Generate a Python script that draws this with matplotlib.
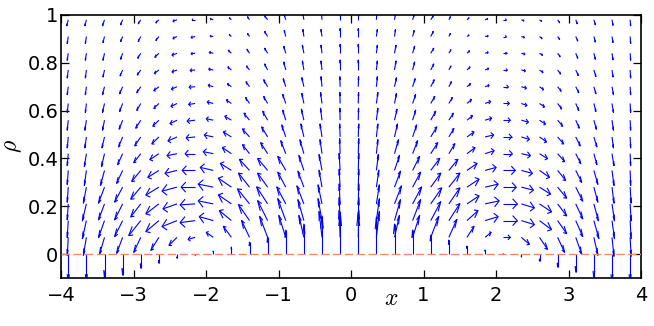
import numpy as np
import matplotlib
matplotlib.use("Agg")
import matplotlib.pyplot as plt
from matplotlib.collections import LineCollection

plt.rcParams['font.family'] = ['DejaVu Sans']
plt.rcParams['mathtext.fontset'] = 'cm'

# grid of arrow bases
x_pos = [-3.9, -3.65, -3.4, -3.15, -2.9, -2.65, -2.4, -2.15, -1.9, -1.65, -1.4, -1.15, -0.9, -0.65, -0.4, -0.15,
         0.1, 0.35, 0.6, 0.85, 1.1, 1.35, 1.6, 1.85, 2.1, 2.35, 2.6, 2.85, 3.1, 3.35, 3.6, 3.85]
rho_pos = [0.0, 0.07, 0.14, 0.21, 0.28, 0.35, 0.42, 0.49, 0.56, 0.63, 0.70, 0.77, 0.84, 0.91, 0.98]

# arrow components (screen px, x to the right, rho up), one row per rho
u_rows = [
    [0]*32,
    [-1,-3,-5,-6,-7,-8,-8,-7,-7,-8,-8,-8,-7,-5,-3,-1, 0.5,3,5,7,8,8,7,6,7,8,8,7,6,4,2,1],
    [-1,-4,-6,-8,-12,-13,-15,-15,-14,-12,-11,-10,-8,-6,-4,-1, 0.5,3,6,8,10,11,11,13,14,13,12,9,7,5,2.5,1],
    [-1,-4,-6,-8,-10,-13,-14,-15,-15,-13,-12,-11,-9,-7,-4,-1, 0.5,3,7,9,11,11,12,14,14,13,12,9,7,4.5,2.5,1],
    [-1,-3,-6,-8,-10,-13,-15,-14,-15,-13,-11,-10,-8,-6,-3,-1, 0.5,2.5,6,8,10,11,12,13,13,12,11,9,7,4,2,1],
    [-1,-2,-4,-6,-9,-11,-12,-13,-13,-11,-10,-10,-8,-5,-3,-1, 0.5,2,5,7,9,9,10,11,12,11,10,8,6,4,2,0.5],
    [-1,-2,-3,-5,-7,-9,-10,-10,-10,-9,-7,-7,-5,-4,-2,-0.5, 0.5,1.5,4,5,7,6,8,9,9,9,8,7,5,3,2,0.5],
    [-1,-1.5,-2.5,-4,-6,-7,-9,-9,-9,-8,-7,-6,-4,-3,-2,-0.5, 0.5,1.5,3,4,6,5,7,8.5,8.5,8,7,6,4.5,3,1.5,0.5],
    [-1,-1.5,-2,-3.5,-5,-6,-7,-8,-7,-6.5,-5.5,-5,-3,-2.5,-1.5,-0.3, 0.3,1.5,2.5,3,5,4.5,5.5,6.5,7,7,6,5,3.5,2.5,1.5,0.5],
    [-1,-1,-2,-3,-4,-5,-6,-6.5,-6,-5,-4,-4,-3,-2,-1.5,-0.3, 0.3,1.5,2,3,4,3.5,4.5,5.5,6,5.5,5,4,3,2,1.5,0.5],
    [-1,-1,-2,-3,-4,-5,-5.5,-6,-5,-4,-3.5,-4,-2.5,-2,-1,-0.3, 0.3,1,2,2.5,3.5,2.5,3.5,4,5,5,4,3.5,3,2,1.5,0.5],
    [-1,-1,-1.5,-2.5,-3.5,-4.5,-5,-5,-4.5,-3.5,-3,-3,-2,-1.5,-1,0, 0,1,1.5,2,3,2,3,3.5,4,4,3.5,3,2.5,2,1,0.5],
    [-1,-1,-1.5,-2,-3,-4,-5,-4,-4,-3,-2.5,-3,-2,-1.5,-1,0, 0,1,1.5,2,3,2,2.5,3,3.5,3.5,3,2.5,2,1.5,1,0.5],
    [-1,-1,-1.5,-2,-2.5,-3,-4,-4,-3,-2,-2,-3,-1.5,-1,-1,0, 0,1,1,1.5,2.5,1.5,2,3,3,3,2.5,2,2,1.5,1,0.5],
    [-1.5,-1.5,-2,-2,-2.5,-3,-4,-3,-3,-2,-2,-3,-1.5,-1,-0.5,0, 0,0.5,1,1.5,2.5,1.5,2,2.5,3,2.5,2,2,1.5,1.5,1,0.5],
]
v_rows = [
    [-30,-30,-24,-21,-14,-9,-4,-1,3,7,12,17,24,30,38,42, 42,37,30,24,19,14,8,4,0.5,-2.5,-7,-13,-18,-25,-30,-30],
    [-18,-18,-17,-16,-15,-13,-8,-2,5,11,17,21,22,22,26,27, 27,26,22,22,21,18,11,5,0,-7,-12,-15,-17,-18,-19,-19],
    [-17,-18,-17,-16,-15,-11,-6,-2,4,10,16,20,22,21,22,23, 23,22,21,21,19,17,10,4,0,-4,-9,-13,-16,-18,-18,-18],
    [-16,-17,-16,-16,-13,-10,-5,-1,3,9,15,17,17,18,19,20, 20,19,18,17,16,16,8,3,0,-4,-8,-12,-15,-17,-17,-17],
    [-15,-16,-16,-15,-12,-8,-4,0,3,9,14,14,15,16,17,18, 18,17,16,15,14,14,8,3,0,-3,-7,-11,-14,-15,-16,-16],
    [-14,-15,-15,-13,-11,-7,-3,0,3,7,11,12,14,15,16,17, 17,16,15,14,12,11,7,3,0,-3,-7,-10,-12,-14,-15,-15],
    [-12,-13,-13,-11,-9,-6,-2,0,2,6,9,11,13,14,14,15, 15,14,14,13,11,10,6,3,0,-2,-5,-8,-10,-11,-12,-12],
    [-11,-11,-11,-10,-9,-7,-4,-1,2,5,8,10,12,13,13,13, 13,13,13,12,10,8.5,5,2,0,-2.5,-5,-7,-9,-10,-11,-11],
    [-10,-10,-10,-9,-8,-6,-3.5,-1,1.5,4,7,9,10,11,12,12, 12,12,11,10,9,7,4.5,2,0,-2,-4,-6,-8,-9,-10,-10],
    [-9,-9,-9,-8,-7,-5,-3,-1,1.5,3.5,6,7,9,10,11,11, 11,11,10,9,7,6,4,2,0,-2,-3.5,-5.5,-7,-8,-9,-9],
    [-8,-8,-8,-7,-6,-4,-2.5,-0.5,1.5,3,5,7,8,9,10,10, 10,10,9,8,7,5,3,1.5,0,-1.5,-3,-4.5,-6,-7,-8,-8],
    [-8,-8,-7,-6,-5,-3.5,-2,-0.5,1,3,4,6,8,9,9,10, 10,9,9,8,6,4,3,1.5,0,-1,-2.5,-4,-5.5,-6.5,-7,-8],
    [-7,-7,-7,-6,-5,-4,-2,-0.5,1,3,4,5,7,8,8,9, 9,8,8,7,5,3.5,2.5,1,0,-1,-2,-3.5,-5,-6,-6.5,-7],
    [-7,-7,-6,-5,-5,-4,-2,-1,0.5,2,3,5,6,7,7,8, 8,7,7,6,5,3,1.5,0.5,0,-1,-2,-3,-4.5,-5.5,-6,-7],
    [-6,-6,-6,-5,-4,-3,-1.5,0,1,2,3,4,5,6,7,8, 8,7,6,5,4,3,2,1,0,-1,-1.5,-3,-4,-5,-5.5,-6],
]

x_ticks = [-4, -3, -2, -1, 0, 1, 2, 3, 4]
y_ticks = [0, 0.2, 0.4, 0.6, 0.8, 1]
y_ticklabels = ['0', '0.2', '0.4', '0.6', '0.8', '1']

fig = plt.figure(figsize=(6.54, 3.26), dpi=100)
ax = fig.add_axes([61/654, 1 - 278/326, 580/654, 263/326])
ax.set_xlim(-4, 4)
ax.set_ylim(-0.1, 1)

# pixel readings -> data units
sx = ax.bbox.width / 8.0
sy = ax.bbox.height / 1.1
X, Y = np.meshgrid(x_pos, rho_pos)
U = np.array(u_rows, dtype=float) / sx
V = np.array(v_rows, dtype=float) / sy

# matlab style quiver: shaft + open head, head built in data units
alpha = 0.33
beta = 0.33
tx = X + U
ty = Y + V
h1x = tx - alpha * (U + beta * V)
h1y = ty - alpha * (V - beta * U)
h2x = tx - alpha * (U - beta * V)
h2y = ty - alpha * (V + beta * U)

segs = []
for i in range(X.shape[0]):
    for k in range(X.shape[1]):
        segs.append([(X[i, k], Y[i, k]), (tx[i, k], ty[i, k])])
        segs.append([(h1x[i, k], h1y[i, k]), (tx[i, k], ty[i, k]), (h2x[i, k], h2y[i, k])])
lc = LineCollection(segs, colors='#0000ff', linewidths=0.8, zorder=2)
ax.add_collection(lc)

ax.axhline(0, color='#f4876a', lw=1.0, ls=(0, (6, 2.5)), zorder=3)

ax.set_xticks(x_ticks)
ax.set_yticks(y_ticks)
ax.set_yticklabels(y_ticklabels)
ax.tick_params(direction='in', top=True, right=True, length=6, width=0.9, labelsize=14)
ax.tick_params(axis='x', pad=6)
ax.tick_params(axis='y', pad=2)
for s in ax.spines.values():
    s.set_linewidth(1.2)

ax.set_xlabel(r'$x$', fontsize=17)
ax.xaxis.set_label_coords(0.569, -0.076)
ax.xaxis.label.set_va('center')
ax.set_ylabel(r'$\rho$', fontsize=17)
ax.yaxis.set_label_coords(-0.084, 0.5)
ax.yaxis.label.set_va('center')

fig.savefig('out.png', dpi=100)
